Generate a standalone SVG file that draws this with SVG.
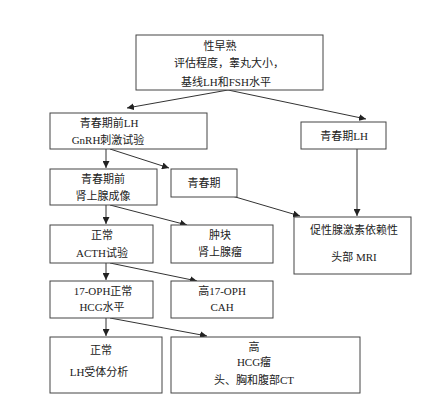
<svg xmlns="http://www.w3.org/2000/svg" width="442" height="411" viewBox="0 0 442 411">
<style>
.b{fill:#fff;stroke:#444;stroke-width:1}
.t{font-family:"Liberation Serif","Noto Sans CJK SC",serif;font-size:11px;fill:#222;text-anchor:middle}
.c line{stroke:#333;stroke-width:1;marker-end:url(#a)}
</style>
<defs><marker id="a" viewBox="0 0 10 10" refX="10" refY="5" markerWidth="7" markerHeight="7" orient="auto" markerUnits="userSpaceOnUse"><path d="M0,0L10,5L0,10z" fill="#222"/></marker></defs>
<rect width="442" height="411" fill="#fff"/>
<g class="c">
<line x1="228" y1="90" x2="127" y2="108"/>
<line x1="228" y1="90" x2="366" y2="119"/>
<line x1="106" y1="149" x2="106" y2="168"/>
<line x1="110" y1="149" x2="169" y2="168"/>
<line x1="357" y1="149" x2="357" y2="216"/>
<line x1="232" y1="196" x2="300" y2="216"/>
<line x1="106" y1="205" x2="106" y2="224"/>
<line x1="110" y1="205" x2="187" y2="225"/>
<line x1="106" y1="263" x2="106" y2="280"/>
<line x1="110" y1="263" x2="197" y2="281"/>
<line x1="106" y1="318" x2="106" y2="336"/>
<line x1="110" y1="318" x2="207" y2="336"/>
</g>
<g id="n1"><rect class="b" x="136" y="35" width="187" height="55"/>
<text class="t" x="220" y="50">性早熟</text><text class="t" x="229" y="67">评估程度，睾丸大小，</text><text class="t" x="226" y="86">基线LH和FSH水平</text></g>
<g id="n2"><rect class="b" x="50" y="113" width="157" height="36"/>
<text class="t" x="109" y="127">青春期前LH</text><text class="t" x="108" y="144">GnRH刺激试验</text></g>
<g id="n3"><rect class="b" x="301" y="122" width="85" height="27"/>
<text class="t" x="344" y="140">青春期LH</text></g>
<g id="n4"><rect class="b" x="50" y="169" width="107" height="36"/>
<text class="t" x="103" y="183">青春期前</text><text class="t" x="103" y="200">肾上腺成像</text></g>
<g id="n5"><rect class="b" x="171" y="169" width="66" height="28"/>
<text class="t" x="204" y="187">青春期</text></g>
<g id="n6"><rect class="b" x="294" y="217" width="117" height="57"/>
<text class="t" x="354" y="234">促性腺激素依赖性</text><text class="t" x="354" y="261">头部 MRI</text></g>
<g id="n7"><rect class="b" x="50" y="225" width="103" height="38"/>
<text class="t" x="102" y="239">正常</text><text class="t" x="102" y="257">ACTH试验</text></g>
<g id="n8"><rect class="b" x="171" y="225" width="102" height="38"/>
<text class="t" x="220" y="239">肿块</text><text class="t" x="220" y="256">肾上腺瘤</text></g>
<g id="n9"><rect class="b" x="50" y="281" width="103" height="37"/>
<text class="t" x="103" y="295">17-OPH正常</text><text class="t" x="102" y="311">HCG水平</text></g>
<g id="n10"><rect class="b" x="171" y="281" width="102" height="37"/>
<text class="t" x="222" y="295">高17-OPH</text><text class="t" x="222" y="311">CAH</text></g>
<g id="n11"><rect class="b" x="50" y="337" width="112" height="56"/>
<text class="t" x="101" y="354">正常</text><text class="t" x="99" y="376">LH受体分析</text></g>
<g id="n12"><rect class="b" x="171" y="337" width="189" height="56"/>
<text class="t" x="254" y="351">高</text><text class="t" x="254" y="366">HCG瘤</text><text class="t" x="254" y="384">头、胸和腹部CT</text></g>
</svg>
